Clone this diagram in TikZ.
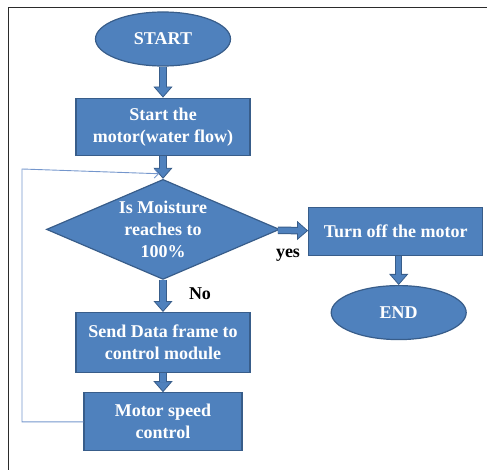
\documentclass[tikz,border=0pt]{standalone}
\usepackage{fontspec}
\setmainfont{Liberation Serif}
\usepackage{tikz}
\usetikzlibrary{shapes.geometric, arrows.meta, positioning, calc}
\definecolor{vblue}{HTML}{4F81BD}
\definecolor{vedge}{HTML}{385D8A}
\definecolor{vloop}{HTML}{7496CC}
\definecolor{vframe}{HTML}{2B2B2B}
\tikzset{
  box/.style={rectangle, draw=vedge, fill=vblue, text=white, line width=1.2pt,
              minimum height=57pt, minimum width=174pt, align=center, inner sep=2pt,
              font=\fontsize{18}{22}\selectfont\bfseries},
  term/.style={ellipse, draw=vedge, fill=vblue, text=white, line width=1.2pt,
               minimum height=54pt, minimum width=135pt, align=center,
               font=\fontsize{18}{22}\selectfont\bfseries},
  decide/.style={diamond, draw=vedge, fill=vblue, text=white, line width=1.2pt,
                 shape aspect=2.33, inner sep=-8pt, minimum width=233pt, minimum height=100pt,
                 align=center, font=\fontsize{18}{22}\selectfont\bfseries},
  lbl/.style={text=black, font=\fontsize{18}{20}\selectfont\bfseries},
  flow/.style={draw=vedge, line width=7.5pt,
               -{Triangle[length=11pt, width=19pt, line width=0.8pt, fill=vblue]},
               postaction={draw=vblue, line width=5.5pt, -, shorten >=10pt}},
  loopflow/.style={draw=vloop, line width=0.9pt, -{Straight Barb[length=4pt, width=9pt]}},
  frame/.style={draw=vframe, line width=1pt}
}

\begin{document}
\begin{tikzpicture}[x=1pt, y=-1pt, node distance=30pt and 30pt]
  \useasboundingbox (0,0) rectangle (487,470);
  \draw[frame] (8,470) -- (8,8) -- (487,8);

  \node[term] (start) at (163,39) {START};
  \node[box, below=31pt of start] (motor) {Start the\\motor(water flow)};
  \node[decide, below=23pt of motor] (moist) {Is Moisture\\reaches to\\100\%};
  \node[box, right=28pt of moist, yshift=-2pt, minimum height=48pt] (stop) {Turn off the motor};
  \node[term, below=29pt of stop, xshift=3pt] (finish) {END};
  \node[box, below=32pt of moist, minimum height=60pt] (send) {Send Data frame to\\control module};
  \node[box, below=19pt of send, minimum width=158pt, minimum height=58pt] (speed) {Motor speed\\control};

  \node[lbl] (yes) at (288,255) {yes};
  \node[lbl] (no) at (200,294) {No};

  \draw[flow] (start) -- (motor);
  \draw[flow] (motor) -- (moist);
  \draw[flow] (moist) -- (stop);
  \draw[flow] (stop.south -| finish) -- (finish);
  \draw[flow] (moist) -- (send);
  \draw[flow] (send) -- (speed);

  % return path back into the decision
  \coordinate (loopx) at (22,169);
  \coordinate (loopin) at ($(motor.south)!0.78!(moist.north)+(-4pt,0)$);
  \draw[loopflow] (speed.west) -| (loopx) -- (loopin);
\end{tikzpicture}
\end{document}
